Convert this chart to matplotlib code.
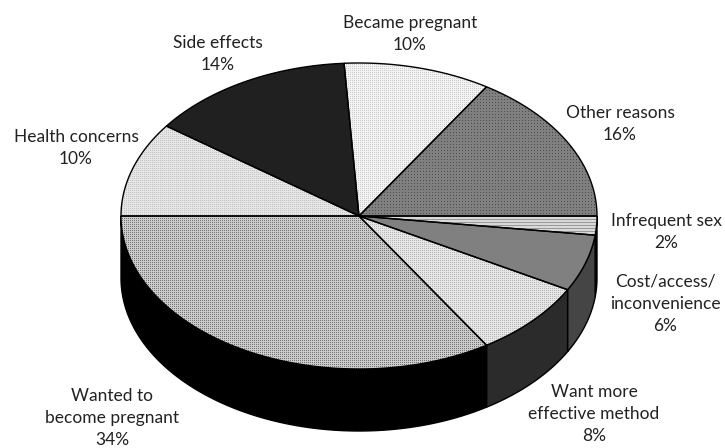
import numpy as np
import matplotlib
matplotlib.use("Agg")
import matplotlib.pyplot as plt
from matplotlib.patches import Polygon

plt.rcParams['font.family'] = ['Lato', 'DejaVu Sans']

# clockwise from the left edge of the pie
labels = ["Health concerns", "Side effects", "Became pregnant", "Other reasons",
          "Infrequent sex", "Cost/access/\ninconvenience", "Want more\neffective method",
          "Wanted to\nbecome pregnant"]
values = [10, 14, 10, 16, 2, 6, 8, 34]
face_light = [0.90, 0.13, 0.95, 0.50, 0.85, 0.50, 0.90, 0.80]
face_dark = [0.76, 0.13, 0.80, 0.30, 0.60, 0.50, 0.72, 0.45]
textures = ["fine", "flat", "fine", "dots", "rows", "flat", "fine", "fine"]
wall_grey = [0, 0, 0, 0, 0.0, 0.27, 0.17, 0.0]
label_xy = [(76, 148), (218, 54), (410, 34), (620, 124), (666, 232), (665, 304), (594, 414), (112, 418)]

cx, cy, rx, ry, depth = 359, 216, 238, 153, 62

fig = plt.figure(figsize=(7.25, 4.48), dpi=100)
ax = fig.add_axes([0, 0, 1, 1])
ax.set_xlim(0, 725)
ax.set_ylim(448, 0)
ax.axis('off')


def rim(a0, a1):
    t = np.radians(np.linspace(a0, a1, 200))
    return cx + rx * np.cos(t), cy - ry * np.sin(t)


# dither textures like the scanned original
yy, xx = np.mgrid[0:448, 0:725]
masks = {"dots": (xx % 3 == 0) & (yy % 3 == 0),
         "fine": (xx % 2 == 0) & (yy % 2 == 0),
         "rows": yy % 3 == 0,
         "flat": np.zeros_like(xx, dtype=bool)}

angle = 180.0
for lab, v, fl, fd, tx, wg, xy in zip(labels, values, face_light, face_dark, textures, wall_grey, label_xy):
    a1 = angle - v * 3.6
    x, y = rim(angle, a1)
    # side wall, only where the rim faces us (lower half)
    if np.sin(np.radians(a1)) <= 0.001 and np.sin(np.radians(angle)) <= 0.001:
        wall = np.column_stack([np.r_[x, x[::-1]], np.r_[y, y[::-1] + depth]])
        ax.add_patch(Polygon(wall, closed=True, fc=str(wg), ec='black', lw=1, zorder=1))
    top = Polygon(np.column_stack([np.r_[cx, x], np.r_[cy, y]]), closed=True, fc='none', ec='black', lw=1, zorder=3)
    tex = np.where(masks[tx], fd, fl)
    im = ax.imshow(tex, cmap='gray', vmin=0, vmax=1, extent=(0, 725, 448, 0), interpolation='nearest', zorder=2, aspect='auto')
    ax.add_patch(top)
    im.set_clip_path(top)
    ax.text(xy[0], xy[1], "%s\n%d%%" % (lab, v), ha='center', va='center', fontsize=12.5, color='#222222',
            linespacing=1.48, zorder=4)
    angle = a1

ax.set_xlim(0, 725)
ax.set_ylim(448, 0)
fig.savefig("out.png", dpi=100)
